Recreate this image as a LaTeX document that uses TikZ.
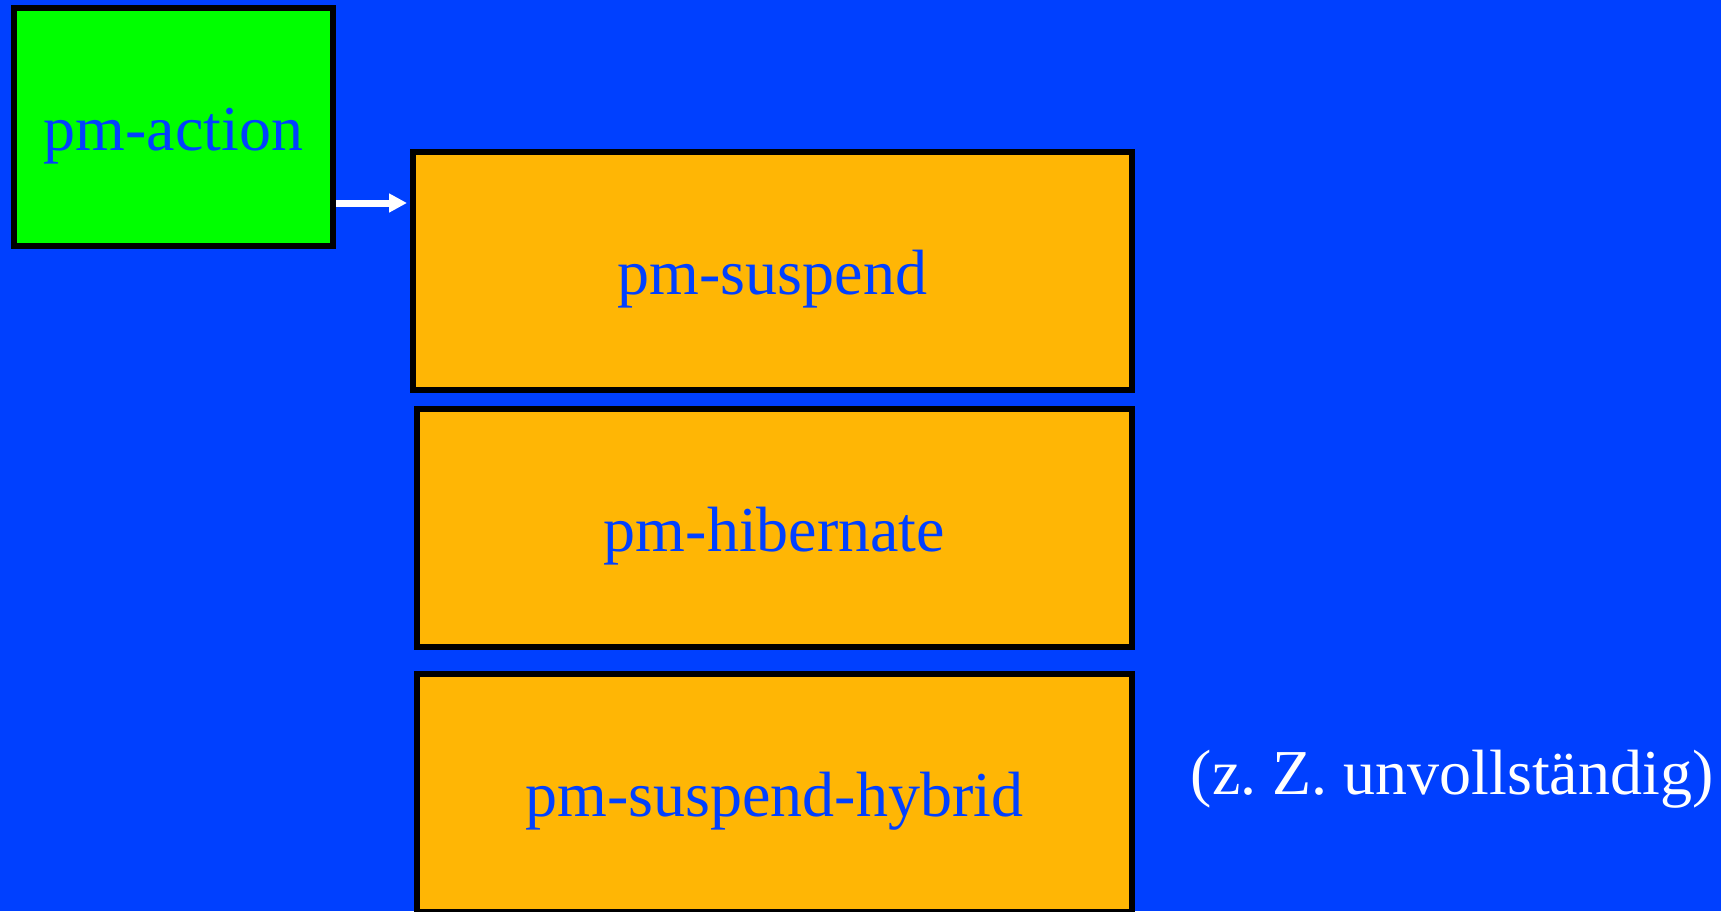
\documentclass[tikz,border=0pt]{standalone}
\usepackage{fontspec}
\setmainfont{Liberation Serif}
\usetikzlibrary{arrows.meta}
\definecolor{bgblue}{RGB}{0,64,255}
\definecolor{boxgreen}{RGB}{0,255,0}
\definecolor{boxorange}{RGB}{255,182,5}
\frenchspacing
\tikzset{
  box/.style={draw=black, line width=6pt, inner sep=0pt, minimum height=238pt,
    text height=60pt, text depth=14pt,
    text=bgblue, font=\fontsize{64}{77}\selectfont},
  greenbox/.style={box, fill=boxgreen, minimum width=319pt},
  orangebox/.style={box, fill=boxorange},
  arr/.style={draw=white, line width=7pt, -{Triangle[length=18pt,width=18pt]}},
  note/.style={text=white, inner sep=0pt, font=\fontsize{64}{77}\selectfont}
}
\begin{document}
\begin{tikzpicture}[x=1pt,y=-1pt]
\useasboundingbox (0,0) rectangle (1721,911);
\clip (0,0) rectangle (1721,911);
\fill[bgblue] (0,0) rectangle (1721,911);
\node[greenbox] (g) at (173.5,127) {pm-action};
\node[orangebox, minimum width=719pt] (s) at (772.5,271) {pm-suspend};
\node[orangebox, minimum width=715pt] (h) at (774.5,528) {pm-hibernate};
\node[orangebox, minimum width=715pt] (y) at (774.5,793) {pm-suspend-hybrid};
\node[note] (n) at (1452,779) {(z. Z. unvollständig)};
\coordinate (a) at (334,203);
\draw[arr] (g.east |- a) -- ([xshift=-3pt]s.west |- a);
\end{tikzpicture}
\end{document}
